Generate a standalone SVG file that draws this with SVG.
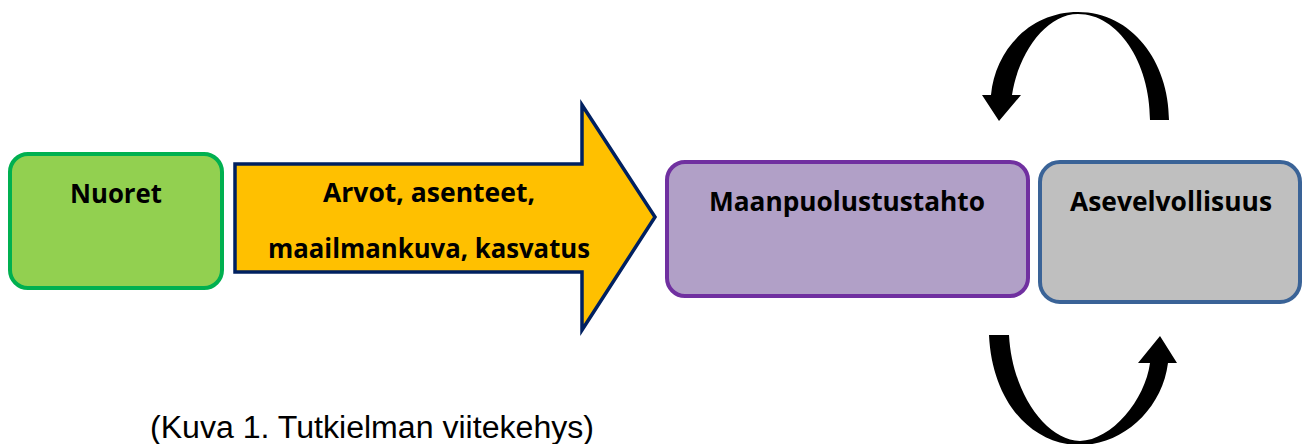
<svg xmlns="http://www.w3.org/2000/svg" width="1306" height="444" viewBox="0 0 1306 444">
  <style>
    .lbl { font-family: "Open Sans", "Liberation Sans", sans-serif; font-weight: bold; font-size: 26px; fill: #000; text-anchor: middle; }
    .cap { font-family: "Liberation Sans", Arial, sans-serif; font-size: 31px; fill: #000; }
    .curl { fill: #000; }
  </style>
  <rect width="1306" height="444" fill="#fff"/>
  <g id="nuoret">
    <rect x="10" y="154" width="212" height="134" rx="18" fill="#92D050" stroke="#00B050" stroke-width="4"/>
    <text class="lbl" x="116" y="203" textLength="92" lengthAdjust="spacingAndGlyphs">Nuoret</text>
  </g>
  <g id="arvot">
    <polygon points="235,164 582,164 582,105 655,217 582,330 582,272 235,272" fill="#FFC000" stroke="#002060" stroke-width="3.5" stroke-linejoin="miter"/>
    <text class="lbl" x="429" y="202" textLength="212" lengthAdjust="spacingAndGlyphs">Arvot, asenteet,</text>
    <text class="lbl" x="429" y="258" textLength="322" lengthAdjust="spacingAndGlyphs">maailmankuva, kasvatus</text>
  </g>
  <g id="maanpuolustustahto">
    <rect x="667" y="162" width="361" height="134" rx="18" fill="#B1A0C7" stroke="#7030A0" stroke-width="4"/>
    <text class="lbl" x="847" y="211" textLength="276" lengthAdjust="spacingAndGlyphs">Maanpuolustustahto</text>
  </g>
  <g id="asevelvollisuus">
    <rect x="1040" y="162" width="260" height="140" rx="20" fill="#BFBFBF" stroke="#3A6397" stroke-width="4"/>
    <text class="lbl" x="1171" y="211" textLength="202" lengthAdjust="spacingAndGlyphs">Asevelvollisuus</text>
  </g>
  <g id="connectors">
    <path class="curl" d="M1169,120 C1169,62 1132,12 1078,12 C1030,12 995,50 991,95 L982,95 L999,121 L1021,95 L1012,95 C1018,55 1045,14 1078,14 C1118,14 1150,62 1150,120 Z"/>
    <path class="curl" d="M989,335 L1009,335 C1012,392 1045,440 1080,441 C1112,440 1145,400 1150,363 L1138,363 L1160,336 L1177,363 L1168,363 C1162,410 1122,445 1080,445 C1030,445 992,400 989,335 Z"/>
  </g>
  <text class="cap" x="150" y="438" textLength="444" lengthAdjust="spacingAndGlyphs">(Kuva 1. Tutkielman viitekehys)</text>
</svg>
